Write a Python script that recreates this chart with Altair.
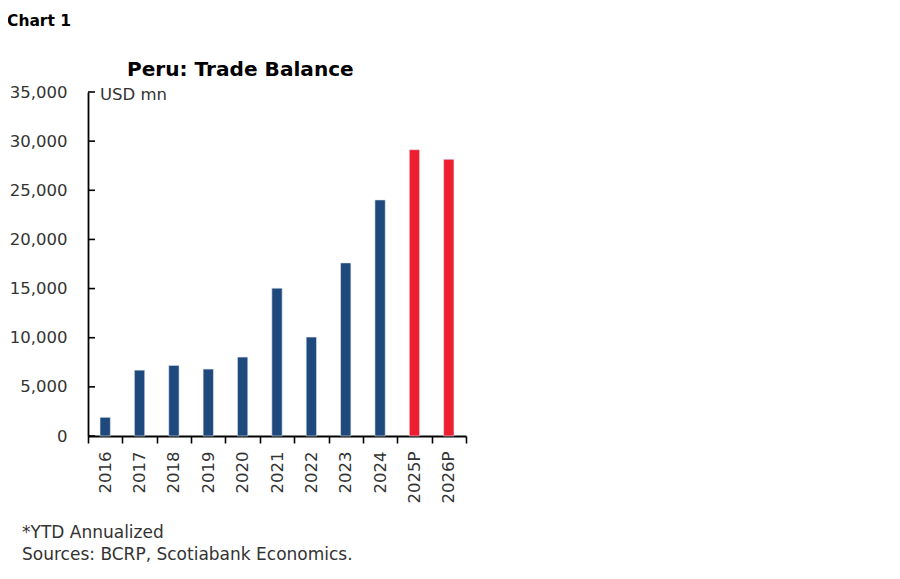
import altair as alt
import pandas as pd

years = ["2016", "2017", "2018", "2019", "2020", "2021", "2022", "2023", "2024", "2025P", "2026P"]
values = [1900, 6700, 7180, 6810, 8030, 15040, 10060, 17610, 24020, 29130, 28150]
kinds = ["Actual"] * 9 + ["Projection"] * 2
y_ticks = [0, 5000, 10000, 15000, 20000, 25000, 30000, 35000]

W, H = 378, 344
FONT = "DejaVu Sans"
LBL = 16.5
TXT = "#333333"

df = pd.DataFrame({"year": years, "value": values, "kind": kinds})
tick_df = pd.DataFrame({"v": y_ticks})

yscale = alt.Scale(domain=[0, 35000], nice=False)
yaxis = alt.Axis(values=y_ticks, format=",.0f", ticks=False, grid=False,
                 domainColor="black", domainWidth=1.8,
                 labelFont=FONT, labelFontSize=LBL, labelColor=TXT,
                 labelPadding=21)

bars = alt.Chart(df).mark_bar(width=alt.RelativeBandSize(0.3),
                              stroke="#dfe6ef", strokeWidth=0.6).encode(
    x=alt.X("year:N", sort=years, title=None,
            scale=alt.Scale(paddingInner=0, paddingOuter=0),
            axis=alt.Axis(labelAngle=-90, tickBand="extent", tickSize=7, tickWidth=1.6,
                          tickColor="black", domainColor="black", domainWidth=1.8,
                          labelFont=FONT, labelFontSize=LBL, labelColor=TXT,
                          labelPadding=8, grid=False)),
    y=alt.Y("value:Q", scale=yscale, title=None, axis=yaxis),
    color=alt.Color("kind:N", scale=alt.Scale(domain=["Actual", "Projection"],
                                              range=["#1F497D", "#EE1D30"]), legend=None),
)

ticks = alt.Chart(tick_df).mark_rule(color="black", strokeWidth=1.6).encode(
    y=alt.Y("v:Q", scale=yscale, title=None, axis=yaxis),
    x=alt.value(0), x2=alt.value(7),
)

def label(text, x, y, size, weight="normal", color=TXT):
    return alt.Chart(pd.DataFrame({"t": [text]})).mark_text(
        align="left", baseline="alphabetic", font=FONT, fontSize=size,
        fontWeight=weight, color=color,
    ).encode(x=alt.value(x), y=alt.value(y), text="t:N")

chart = alt.layer(
    bars, ticks,
    label("Chart 1", -81, -66, 15.5, "bold", "#000"),
    label("Peru: Trade Balance", 39, -16, 20.1, "bold", "#000"),
    label("USD mn", 12, 8, 16.5),
    label("*YTD Annualized", -66, 446, 17),
    label("Sources: BCRP, Scotiabank Economics.", -66, 468, 17),
).properties(
    width=W, height=H,
    autosize=alt.AutoSizeParams(type="none"),
    padding={"left": 80, "top": 84, "right": 20, "bottom": 130},
).configure_view(stroke=None)

chart.save("out.html", embed_options={"renderer": "svg", "actions": False})
